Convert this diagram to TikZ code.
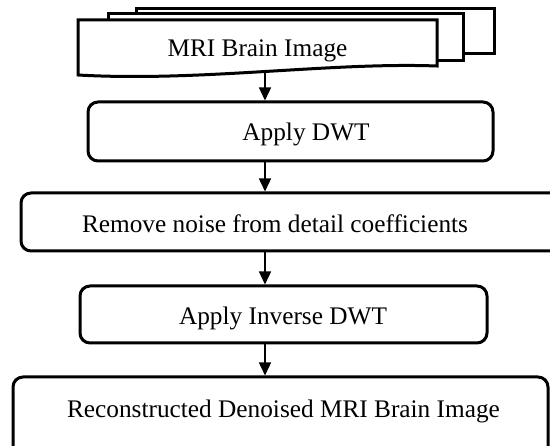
\documentclass[tikz,border=0pt]{standalone}
\usepackage{fontspec}
\setmainfont{Liberation Serif}
\usetikzlibrary{arrows.meta}
\tikzset{
  box/.style={draw=black, line width=3pt, rounded corners=10pt, fill=white, inner sep=0pt},
  page/.style={draw=black, line width=3pt, fill=white, line join=miter},
  lbl/.style={anchor=base, inner sep=0pt, font=\fontsize{25.3}{30}\selectfont},
  flow/.style={line width=1.4pt, -{Triangle[length=13pt,width=12pt]}}
}
\begin{document}
\begin{tikzpicture}[x=1pt,y=-1pt]
\useasboundingbox (0,0) rectangle (550,446);
% multi-document
\draw[page] (136,9) rectangle (494,54);
\draw[page] (108,14) rectangle (463,61);
\draw[page] (78,75) -- (78,20) -- (437,20) -- (437,66)
  .. controls (330,62) and (200,82) .. cycle;
\node[lbl] (t1) at (257.5,57) {MRI Brain Image};
\coordinate (docbot) at (265,72);
% boxes
\node[box, minimum width=405pt, minimum height=59pt] (dwt) at (290.5,131.5) {};
\node[lbl] (t2) at (306,141) {Apply DWT};
\node[box, minimum width=549pt, minimum height=58pt] (noise) at (295.5,222) {};
\node[lbl] (t3) at (275,233) {Remove noise from detail coefficients};
\node[box, minimum width=407pt, minimum height=57pt] (idwt) at (283.5,314.5) {};
\node[lbl] (t4) at (283,325) {Apply Inverse DWT};
\node[box, minimum width=535pt, minimum height=93pt] (rec) at (280.5,423.5) {};
\node[lbl] (t5) at (283.5,418) {Reconstructed Denoised MRI Brain Image};
% arrows
\draw[flow] (docbot) -- (dwt.north -| docbot);
\draw[flow] (dwt.south -| docbot) -- (noise.north -| docbot);
\draw[flow] (noise.south -| docbot) -- (idwt.north -| docbot);
\draw[flow] (idwt.south -| docbot) -- (rec.north -| docbot);
\end{tikzpicture}
\end{document}
